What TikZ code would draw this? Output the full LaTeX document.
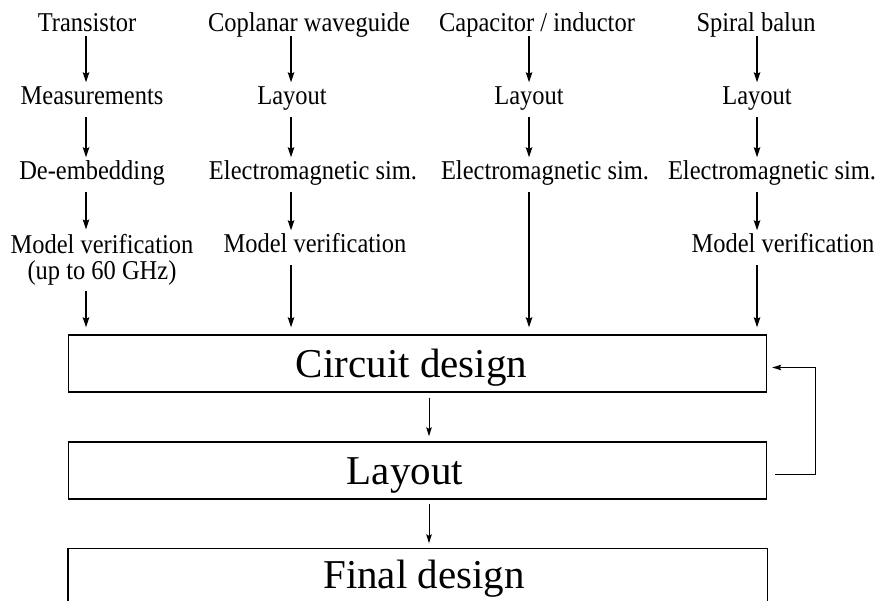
\documentclass[tikz,border=0pt]{standalone}
\usepackage{fontspec}
\setmainfont{Liberation Serif}
\newfontfamily\labelfont[FakeStretch=0.9]{Liberation Serif}
\usetikzlibrary{arrows.meta}
\begin{document}
\begin{tikzpicture}[x=1pt,y=-1pt,
  lbl/.style={anchor=base,inner xsep=0pt,inner ysep=5pt,
    font=\labelfont\fontsize{27.2}{24}\selectfont,text height=17.5pt,text depth=7pt},
  toplbl/.style={lbl,text depth=0pt,inner ysep=4pt},
  twoline/.style={anchor=north,align=center,inner xsep=0pt,inner ysep=5pt,
    font=\labelfont\fontsize{27.2}{26}\selectfont},
  flow/.style={line width=1.3pt,-{Stealth[length=10pt,width=6.5pt,inset=1.5pt]}},
  thinflow/.style={line width=1pt,-{Stealth[length=9pt,width=5.5pt,inset=1.5pt]}},
  bigbox/.style={draw,line width=1.4pt,minimum width=698pt,minimum height=57pt,
    inner sep=0pt,font=\fontsize{41}{41}\selectfont,text height=27pt,text depth=0pt}
]
\useasboundingbox (0,0) rectangle (877,601);

% column axes
\coordinate (x1) at (86,0);
\coordinate (x2) at (291,0);
\coordinate (x3) at (529,0);
\coordinate (x4) at (757,0);
\coordinate (xm) at (429,0);

% first row
\node[toplbl] (t1) at (87,32)  {Transistor};
\node[toplbl] (t2) at (309,32) {Coplanar waveguide};
\node[toplbl] (t3) at (537,32) {Capacitor / inductor};
\node[toplbl] (t4) at (756,32) {Spiral balun};

% second row
\node[lbl] (a1) at (92,105)  {Measurements};
\node[lbl] (a2) at (292,105) {Layout};
\node[lbl] (a3) at (529,105) {Layout};
\node[lbl] (a4) at (757,105) {Layout};

% third row
\node[lbl] (b1) at (92,180)  {De-embedding};
\node[lbl] (b2) at (313,180) {Electromagnetic sim.};
\node[lbl] (b3) at (545,180) {Electromagnetic sim.};
\node[lbl] (b4) at (772,180) {Electromagnetic sim.};

% fourth row
\node[twoline] (m1) at (102,229.5) {Model verification\\(up to 60 GHz)};
\node[lbl] (m2) at (315,253) {Model verification};
\node[lbl] (m4) at (783,253) {Model verification};

% design stages
\node[bigbox] (circ) at (417.5,363.5) {\hspace*{-12pt}Circuit design};
\node[bigbox] (lay)  at (417.5,470.5) {\hspace*{-25pt}Layout};
\node[bigbox,draw=none,minimum height=52pt] (fin) at (417.5,575) {\hspace*{13pt}Final design};
\draw[line width=1.4pt] (fin.south west) |- (fin.north) -| (fin.south east);

% column flows
\draw[flow] (t1.south -| x1) -- (a1.north -| x1);
\draw[flow] (a1.south -| x1) -- (b1.north -| x1);
\draw[flow] (b1.south -| x1) -- (m1.north -| x1);
\draw[flow,shorten >=7pt] (m1.south -| x1) -- (circ.north -| x1);

\draw[flow] (t2.south -| x2) -- (a2.north -| x2);
\draw[flow] (a2.south -| x2) -- (b2.north -| x2);
\draw[flow] (b2.south -| x2) -- (m2.north -| x2);
\draw[flow,shorten >=7pt] (m2.south -| x2) -- (circ.north -| x2);

\draw[flow] (t3.south -| x3) -- (a3.north -| x3);
\draw[flow] (a3.south -| x3) -- (b3.north -| x3);
\draw[flow,shorten >=7pt] (b3.south -| x3) -- (circ.north -| x3);

\draw[flow] (t4.south -| x4) -- (a4.north -| x4);
\draw[flow] (a4.south -| x4) -- (b4.north -| x4);
\draw[flow] (b4.south -| x4) -- (m4.north -| x4);
\draw[flow,shorten >=7pt] (m4.south -| x4) -- (circ.north -| x4);

% stage flows and feedback loop
\draw[thinflow,shorten <=5pt,shorten >=5pt] (circ.south -| xm) -- (lay.north -| xm);
\draw[thinflow,shorten <=4pt,shorten >=5pt] (lay.south -| xm) -- (fin.north -| xm);
\draw[thinflow] ([xshift=8pt,yshift=-4pt]lay.east) -- ++(40,0)
  |- ([xshift=5pt,yshift=-4pt]circ.east);
\end{tikzpicture}
\end{document}
